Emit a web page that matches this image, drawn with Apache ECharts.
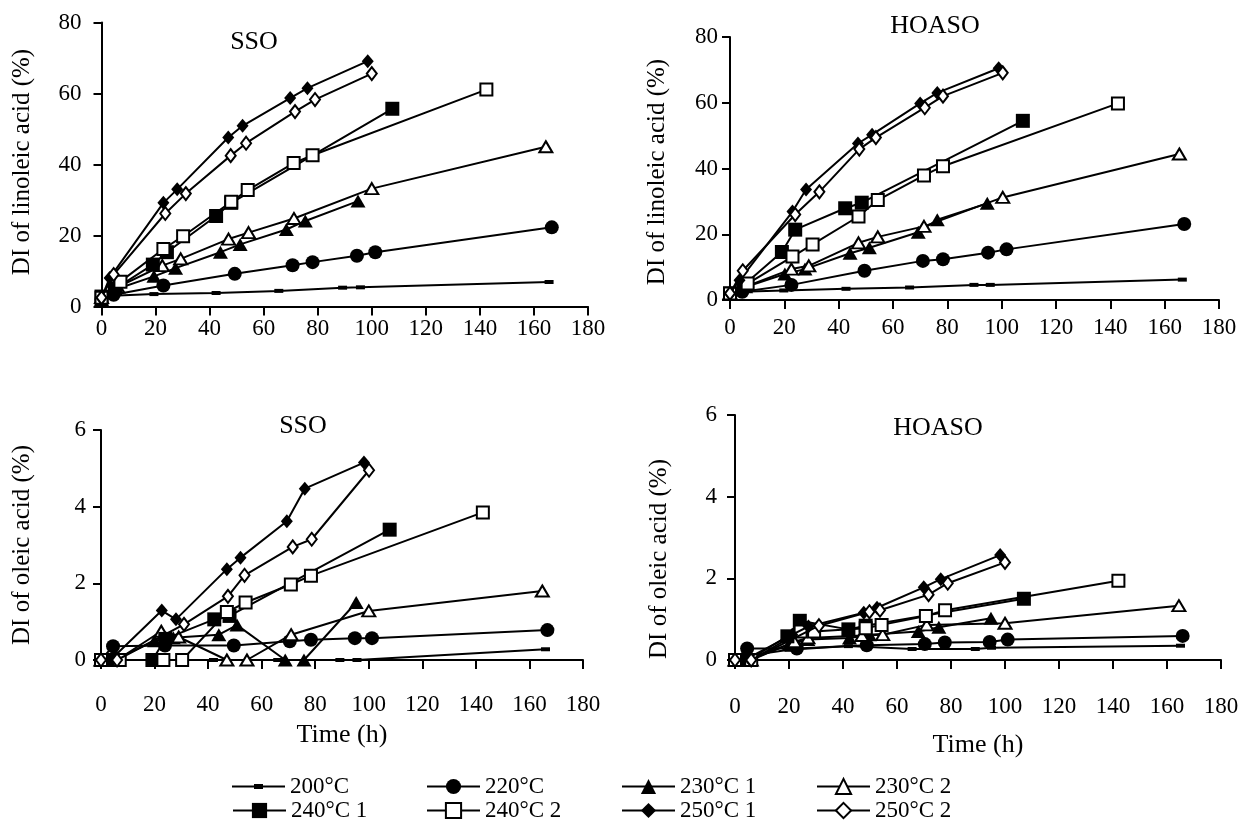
<!DOCTYPE html>
<html><head><meta charset="utf-8">
<script src="https://cdn.jsdelivr.net/npm/echarts@6/dist/echarts.min.js"></script>
<style>html,body{margin:0;padding:0;background:#fff}#c{width:1242px;height:834px}</style>
</head><body><div id="c"></div>
<script>
const seriesNames = ['200°C','220°C','230°C 1','230°C 2','240°C 1','240°C 2','250°C 1','250°C 2'];
const panelTitles = ['SSO','HOASO','SSO','HOASO'];
const yNames = ['DI of linoleic acid (%)','DI of linoleic acid (%)','DI of oleic acid (%)','DI of oleic acid (%)'];
const xName = 'Time (h)';

// SSO – linoleic acid  [time h, DI %]
const linSSO_200  = [[0,2.5],[4,3],[19.4,3.5],[42.4,3.8],[65.6,4.4],[89.2,5.3],[95.8,5.4],[165.6,6.9]];
const linSSO_220  = [[0,2],[4.5,3.3],[22.9,5.9],[49.3,9.2],[70.7,11.6],[78.1,12.5],[94.5,14.3],[101.3,15.3],[166.6,22.3]];
const linSSO_2301 = [[0,2],[4,4.5],[19.4,8.5],[27.4,10.8],[44,15.3],[51.3,17.5],[68.4,21.7],[75.4,24.1],[94.9,29.7]];
const linSSO_2302 = [[0,2.5],[6,5.5],[22.5,11.5],[29.3,13.4],[47,19],[54.4,20.8],[71.2,24.8],[100,33.2],[164.4,45]];
const linSSO_2401 = [[0,2.8],[5,5],[19,11.8],[24.2,15.3],[42.4,25.5],[48,29.2],[107.6,55.7]];
const linSSO_2402 = [[0,2.5],[7,7],[22.9,16.2],[30.2,19.8],[48,29.5],[54.1,32.8],[71.1,40.4],[78.1,42.6],[142.4,61.1]];
const linSSO_2501 = [[0,2.5],[3,8],[22.9,29.2],[28,33],[46.9,47.6],[52.2,50.9],[69.8,58.7],[76.2,61.5],[98.5,69.1]];
const linSSO_2502 = [[0,2.5],[4.5,9],[23.6,26.2],[31.2,31.8],[47.8,42.5],[53.5,46],[71.6,54.9],[79,58.3],[100,65.6]];

// HOASO – linoleic acid
const linHO_200  = [[0,2],[4,2.5],[19.8,2.9],[42.7,3.4],[66.1,3.8],[89.8,4.6],[95.8,4.6],[166.5,6.2]];
const linHO_220  = [[0,2],[4.5,2.5],[22.6,4.6],[49.5,8.9],[71,11.9],[78.4,12.4],[95,14.4],[101.8,15.4],[167.2,23.1]];
const linHO_2301 = [[0,2],[4,3.5],[20.2,7.9],[27.6,9.4],[44.2,14.2],[51.3,15.9],[69.3,20.6],[76.3,24.4],[94.7,29.4]];
const linHO_2302 = [[0,2],[5.5,4],[22.6,9.4],[29,10.4],[47.3,17.4],[54.4,19.2],[71.4,22.4],[100.4,31.2],[165.4,44.4]];
const linHO_2401 = [[0,2],[5,4.5],[19.1,14.6],[24,21.4],[42.4,27.9],[48.5,29.6],[107.8,54.5]];
const linHO_2402 = [[0,2],[6.5,5],[23,13.2],[30.4,16.9],[47.3,25.4],[54.4,30.4],[71.4,37.9],[78.4,40.7],[142.8,59.8]];
const linHO_2501 = [[0,2],[3.5,6],[23,26.9],[28,33.6],[47.1,47.6],[52.3,50.3],[70,59.8],[76.3,63],[98.9,70.5]];
const linHO_2502 = [[0,2],[4.7,8.9],[24,26],[32.9,32.9],[47.6,45.9],[53.7,49.4],[71.7,58.5],[78.4,62],[100.4,69.1]];

// SSO – oleic acid
const oleSSO_200  = [[0,0],[4,0],[19,0],[42,0],[66,0],[89.2,0],[95.6,0],[166,0.28]];
const oleSSO_220  = [[0,0],[4.5,0.36],[23.9,0.38],[49.6,0.38],[70.5,0.49],[78.4,0.53],[94.8,0.57],[101.2,0.57],[166.7,0.78]];
const oleSSO_2301 = [[0,0],[5,0],[20,0.5],[27,0.58],[44,0.66],[50.8,0.91],[68.8,0],[75.8,0],[95.3,1.5]];
const oleSSO_2302 = [[0,0],[6,0],[22.5,0.75],[29,0.6],[47,0],[54.5,0],[71,0.66],[100,1.28],[164.8,1.8]];
const oleSSO_2401 = [[0,0],[5,0],[19.2,0],[24,0.55],[42.3,1.06],[48,1.15],[107.8,3.4]];
const oleSSO_2402 = [[0,0],[7,0],[23.3,0],[30.3,0],[47,1.25],[54,1.5],[70.9,1.97],[78.4,2.2],[142.6,3.85]];
const oleSSO_2501 = [[0,0],[5,0.1],[22.7,1.29],[28,1.06],[47,2.37],[52.1,2.67],[69.4,3.62],[76.1,4.47],[98.2,5.15]];
const oleSSO_2502 = [[0,0],[6,0],[31,0.93],[47.4,1.66],[53.6,2.21],[71.6,2.95],[78.7,3.15],[100.1,4.95]];

// HOASO – oleic acid
const oleHO_200  = [[0,0],[4,0.1],[20,0.25],[42,0.34],[65.6,0.27],[89,0.27],[95,0.3],[165,0.35]];
const oleHO_220  = [[0,0],[4.5,0.28],[22.9,0.28],[48.8,0.36],[70.3,0.39],[77.7,0.43],[94.3,0.44],[101,0.5],[165.8,0.59]];
const oleHO_2301 = [[0,0],[5,0],[20,0.38],[27,0.5],[42.4,0.54],[49.8,0.62],[67.9,0.7],[75.5,0.8],[94.8,1.02]];
const oleHO_2302 = [[0,0],[6,0],[22,0.45],[27,0.54],[47,0.6],[54.7,0.62],[71,0.86],[100,0.9],[164.4,1.33]];
const oleHO_2401 = [[0,0],[5,0],[19.4,0.58],[24,0.96],[42,0.75],[48.4,0.84],[107,1.5]];
const oleHO_2402 = [[0,0],[6,0],[24.3,0.7],[29.3,0.7],[48.4,0.78],[54.3,0.86],[70.7,1.08],[77.8,1.22],[142,1.94]];
const oleHO_2501 = [[0,0],[5,0.05],[21.2,0.62],[27.2,0.82],[47.7,1.16],[52.6,1.28],[69.9,1.78],[76.2,1.98],[98.2,2.57]];
const oleHO_2502 = [[0,0],[6,0],[31.1,0.84],[49.8,1.18],[53.7,1.22],[71.7,1.6],[78.8,1.88],[100,2.39]];

const xMax = 180, xStep = 20;
const yMaxes = [80, 80, 6, 6];
const ySteps = [20, 20, 2, 2];

const panels = [
  [linSSO_200, linSSO_220, linSSO_2301, linSSO_2302, linSSO_2401, linSSO_2402, linSSO_2501, linSSO_2502],
  [linHO_200, linHO_220, linHO_2301, linHO_2302, linHO_2401, linHO_2402, linHO_2501, linHO_2502],
  [oleSSO_200, oleSSO_220, oleSSO_2301, oleSSO_2302, oleSSO_2401, oleSSO_2402, oleSSO_2501, oleSSO_2502],
  [oleHO_200, oleHO_220, oleHO_2301, oleHO_2302, oleHO_2401, oleHO_2402, oleHO_2501, oleHO_2502]
];

const FONT = "'Liberation Serif', 'Times New Roman', serif";
const grids = [
  {left:101.5, top:22.5, width:486.5, height:284},
  {left:730, top:37, width:489, height:263},
  {left:101, top:430, width:482, height:230},
  {left:735, top:415, width:486, height:245}
];
const xLabelMargin = [11, 16, 33, 35];
const yLabelMargin = [20, 12, 15, 18];
const xNameGap = [0, 0, 62, 72];

const markerStyles = [
  {symbol:'rect', size:[9,4], fill:'#000', bw:0},
  {symbol:'circle', size:14, fill:'#000', bw:0},
  {symbol:'triangle', size:[15,13], fill:'#000', bw:0},
  {symbol:'triangle', size:[13,11], fill:'#fff', bw:2},
  {symbol:'rect', size:14, fill:'#000', bw:0},
  {symbol:'rect', size:12, fill:'#fff', bw:2},
  {symbol:'diamond', size:[12,14], fill:'#000', bw:0},
  {symbol:'diamond', size:[10,13], fill:'#fff', bw:2}
];

const series = [];
panels.forEach((pd, p) => {
  pd.forEach((d, s) => {
    const m = markerStyles[s];
    series.push({
      type:'line', name:seriesNames[s], xAxisIndex:p, yAxisIndex:p, data:d,
      symbol:m.symbol, symbolSize:m.size, showAllSymbol:true, clip:false,
      itemStyle:{color:m.fill, borderColor:'#000', borderWidth:m.bw},
      lineStyle:{color:'#000', width:2},
      emphasis:{disabled:true}, z: 3 + s
    });
  });
});

const legendLeft = [232, 426, 621, 816];
const legends = seriesNames.map((n, i) => ({
  data:[i === 0 ? {name:n, icon:'path://M0,6h53v2h-53zM22,4.5h9v5h-9z'} : n],
  left:legendLeft[i % 4], top: i < 4 ? 775 : 799,
  itemWidth:53, itemHeight:19, itemGap:0, padding:0, selectedMode:false,
  textStyle:{fontFamily:FONT, fontSize:23, color:'#000'}
}));

const textEl = (x, y, text, size, rot) => ({
  type:'text', x, y, rotation: rot || 0,
  style:{text, fill:'#000', fontFamily:FONT, fontSize:size, align:'center', verticalAlign:'middle', textAlign:'center', textVerticalAlign:'middle'}
});

const graphics = [
  textEl(254, 42, panelTitles[0], 26),
  textEl(935, 26, panelTitles[1], 26),
  textEl(303, 426, panelTitles[2], 26),
  textEl(938, 428, panelTitles[3], 26),
  textEl(22, 162, yNames[0], 25, Math.PI/2),
  textEl(657, 172, yNames[1], 25, Math.PI/2),
  textEl(22, 545, yNames[2], 25, Math.PI/2),
  textEl(659, 559, yNames[3], 25, Math.PI/2)
];

const axisCommon = {
  axisLine:{show:true, onZero:true, lineStyle:{color:'#000', width:2}},
  axisTick:{show:true, inside:false, lineStyle:{color:'#000', width:2}},
  splitLine:{show:false}
};

const option = {
  animation:false,
  backgroundColor:'#fff',
  grid: grids,
  xAxis: grids.map((g, i) => Object.assign({}, axisCommon, {
    type:'value', gridIndex:i, min:0, max:xMax, interval:xStep,
    axisTick:Object.assign({}, axisCommon.axisTick, {length:9}),
    axisLabel:{color:'#000', fontFamily:FONT, fontSize:23, margin:xLabelMargin[i]},
    name: i >= 2 ? xName : '', nameLocation:'middle', nameGap:xNameGap[i],
    nameTextStyle:{color:'#000', fontFamily:FONT, fontSize:26}
  })),
  yAxis: grids.map((g, i) => Object.assign({}, axisCommon, {
    type:'value', gridIndex:i, min:0, max:yMaxes[i], interval:ySteps[i],
    axisTick:Object.assign({}, axisCommon.axisTick, {length:8}),
    axisLabel:{color:'#000', fontFamily:FONT, fontSize:23, margin:yLabelMargin[i]}
  })),
  legend: legends,
  graphic: graphics,
  series
};

const chart = echarts.init(document.getElementById('c'), null, {renderer:'canvas'});
chart.setOption(option);
</script>
</body></html>
